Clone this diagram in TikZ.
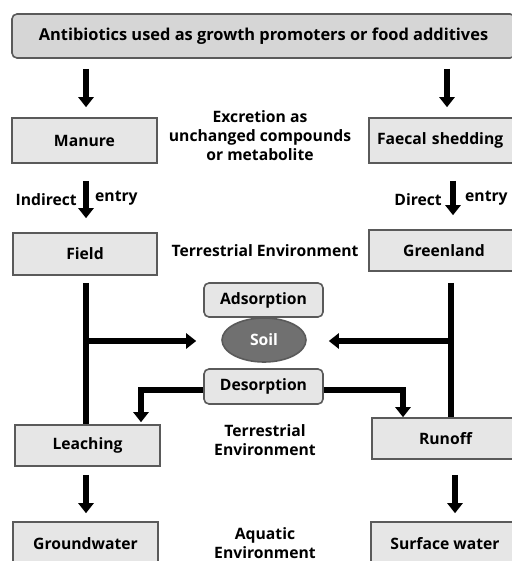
\documentclass[tikz,border=0pt]{standalone}
\usepackage{fontspec}
\setmainfont{Open Sans}
\usetikzlibrary{arrows.meta,shapes.geometric}
\definecolor{boxfill}{HTML}{E6E6E6}
\definecolor{topfill}{HTML}{D6D6D6}
\definecolor{boxline}{HTML}{5A5A5A}
\definecolor{soilfill}{HTML}{707070}
\tikzset{
  box/.style={draw=boxline, fill=boxfill, line width=1.6pt, inner sep=0pt, font=\fontsize{15.7}{17}\selectfont\bfseries},
  rbox/.style={box, rounded corners=5pt},
  lbl/.style={font=\fontsize{15.7}{19}\selectfont\bfseries, align=center, inner sep=0pt},
  arr/.style={line width=5.5pt, -{Triangle[width=15pt,length=10pt]}},
  bar/.style={line width=5.5pt},
}
\begin{document}
\begin{tikzpicture}[x=1pt,y=-1pt]
\useasboundingbox (0,0) rectangle (511,561);
\node[rbox, fill=topfill, minimum width=503pt, minimum height=44pt, font=\fontsize{16.4}{18}\selectfont\bfseries] (top) at (263.5,36) {Antibiotics used as growth promoters or food additives};
\node[box, minimum width=145pt, minimum height=45pt] (manure) at (84.5,140.5) {Manure};
\node[box, minimum width=150pt, minimum height=45pt, text width=142pt, align=left] (faecal) at (444,140.5) {\hspace{4pt}Faecal shedding};
\node[lbl] (excr) at (260,136) {Excretion as\\unchanged compounds\\or metabolite};
\node[box, minimum width=144pt, minimum height=42pt] (field) at (85,254) {Field};
\node[box, minimum width=150pt, minimum height=41pt] (green) at (444,250.5) {Greenland};
\node[lbl] (terr1) at (265,251) {Terrestrial Environment};
\node[rbox, minimum width=119pt, minimum height=34pt] (ads) at (263.5,300) {Adsorption};
\node[ellipse, draw=boxline, fill=soilfill, line width=1.6pt, minimum width=84pt, minimum height=44pt, inner sep=0pt, text=white, font=\fontsize{15.7}{17}\selectfont\bfseries] (soil) at (264,340) {Soil};
\node[rbox, minimum width=119pt, minimum height=35pt] (des) at (263.5,386.5) {Desorption};
\node[box, minimum width=145pt, minimum height=41pt] (leach) at (87.5,445.5) {Leaching};
\node[box, minimum width=147pt, minimum height=41pt] (runoff) at (445.5,438.5) {Runoff};
\node[lbl] (terr2) at (265,440) {Terrestrial\\Environment};
\node[box, minimum width=145pt, minimum height=43pt] (ground) at (85.5,543.5) {Groundwater};
\node[box, minimum width=148pt, minimum height=43pt] (surf) at (445,543.5) {Surface water};
\node[lbl] (aqua) at (265,543) {Aquatic\\Environment};
\node[lbl, anchor=east] (indir) at (77,200) {Indirect};
\node[lbl, anchor=west] (entry1) at (95,198) {entry};
\node[lbl, anchor=east] (dir) at (442,200) {Direct};
\node[lbl, anchor=west] (entry2) at (465,198) {entry};
% arrows top
\draw[arr, shorten <=10pt, shorten >=10pt] (top.south -| 86,0) -- (manure.north -| 86,0);
\draw[arr, shorten <=10pt, shorten >=10pt] (top.south -| 447,0) -- (faecal.north -| 447,0);
\draw[arr, shorten <=17pt, shorten >=14pt] (manure.south -| 86,0) -- (field.north -| 86,0);
\draw[arr, shorten <=17pt, shorten >=14pt] (faecal.south -| 453,0) -- (green.north -| 453,0);
% verticals
\draw[bar, shorten <=7pt] (field.south -| 86,0) -- (leach.north -| 86,0);
\draw[bar, shorten <=11pt] (green.south -| 451,0) -- (runoff.north -| 451,0);
\coordinate (jl) at (86,341);
\coordinate (jr) at (451,341);
\draw[arr, shorten >=25pt] (jl) -- (soil.west |- jl);
\draw[arr, shorten >=22pt] (jr) -- (soil.east |- jr);
% desorption
\coordinate (dl) at (141,390);
\coordinate (dr) at (403,390);
\draw[arr, line join=miter, shorten >=2pt] (des.west |- dl) -- (dl) -- (leach.north -| dl);
\draw[arr, line join=miter] (des.east |- dr) -- (dr) -- (runoff.north -| dr);
% bottom arrows
\draw[arr, shorten <=8pt, shorten >=8pt] (leach.south -| 86,0) -- (ground.north -| 86,0);
\draw[arr, shorten <=15pt, shorten >=8pt] (runoff.south -| 455,0) -- (surf.north -| 455,0);
\end{tikzpicture}
\end{document}
